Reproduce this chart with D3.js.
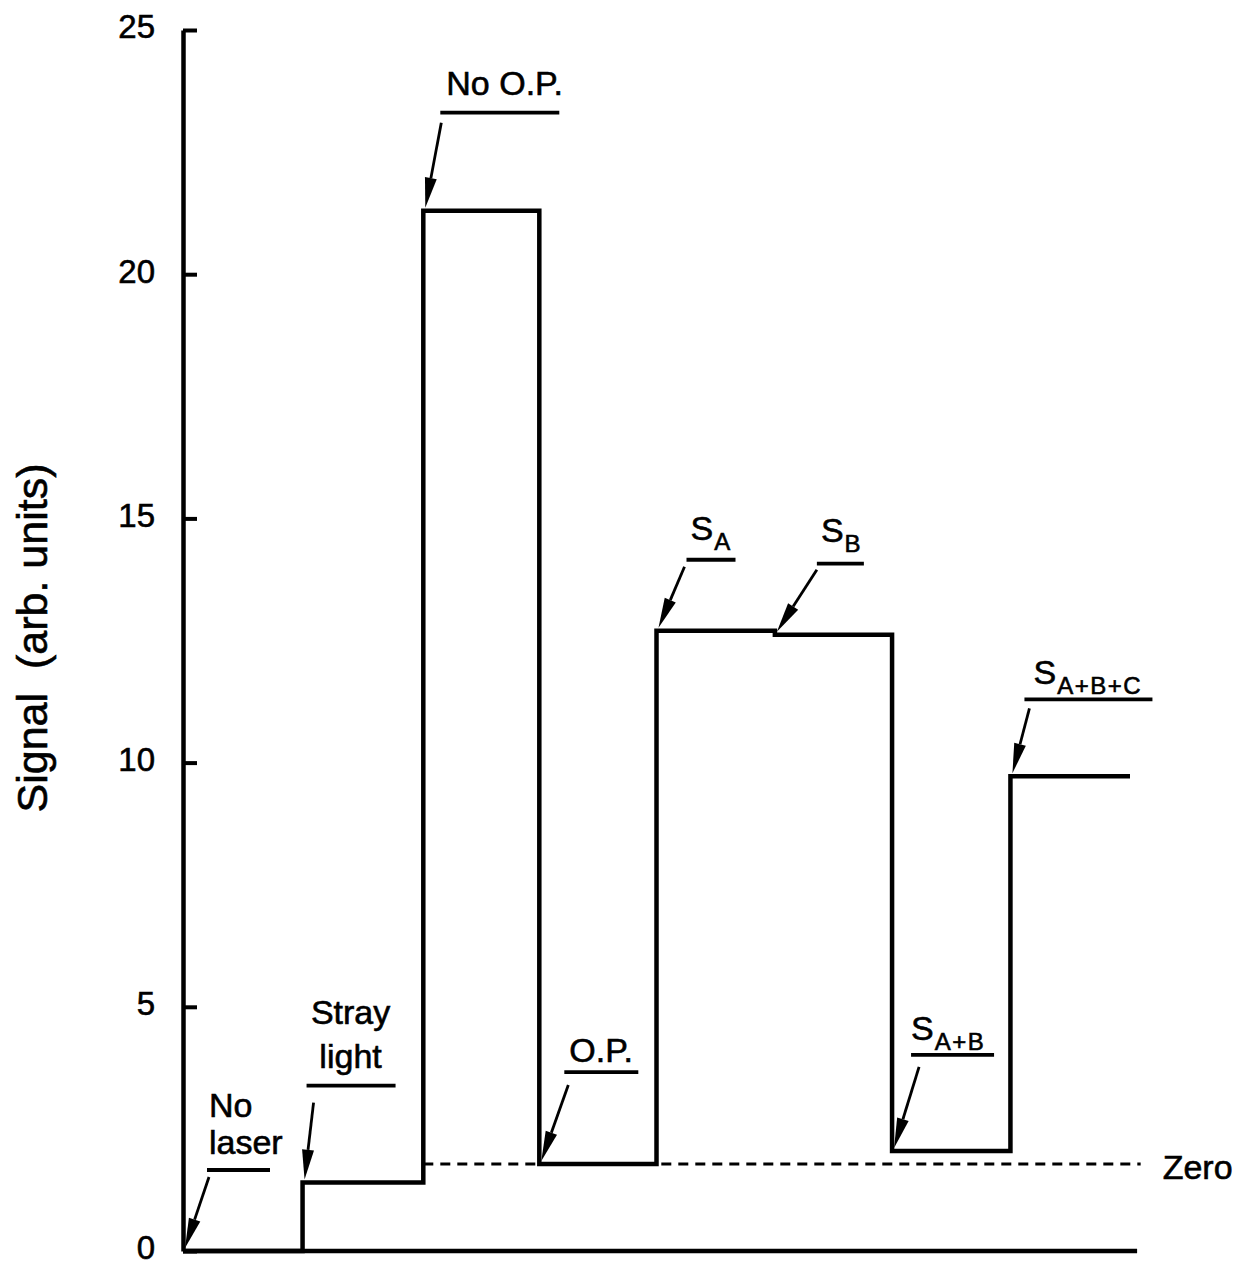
<!DOCTYPE html>
<html>
<head>
<meta charset="utf-8">
<script src="https://cdn.jsdelivr.net/npm/d3@7"></script>
<style>
  html, body { margin: 0; padding: 0; background: #fff; }
  svg { display: block; }
  text { font-family: "Liberation Sans", Arial, Helvetica, sans-serif; fill: #000; stroke: #000; stroke-width: 0.6px; }
</style>
</head>
<body>
<svg id="chart" width="1256" height="1267"></svg>
<script>
// ---- data ----
const stepX = [0, 1.01, 2.03, 3.01, 4.0, 5.0, 5.99, 6.99, 8.0];     // segment boundaries (arb. time)
const stepY = [0, 1.4, 21.3, 1.78, 12.7, 12.62, 2.05, 9.72, 9.72];  // signal level on each segment
const zeroLevel = 1.78;
const zeroRange = [2.03, 8.09];
const baselineRange = [0, 8.06];
const yTicks = [0, 5, 10, 15, 20, 25];
const yLabel = "Signal  (arb. units)";
const annMain = ["No\nlaser", "Stray\nlight", "No O.P.", "O.P.", "S", "S", "S", "S"];
const annSub  = ["", "", "", "", "A", "B", "A+B", "A+B+C"];
const annSeg  = [0, 1, 2, 3, 4, 5, 6, 7];   // which step the arrow points at

// ---- layout (pixels relative to arrow target) ----
const annLayout = [
  { start: [24, -71], ul: [-78, 22, 85], text: { x: 24, ys: [-131, -94], anchor: "start" } },
  { start: [9, -77],  ul: [-94, 2, 91],  text: { x: 46, ys: [-156, -112], anchor: "middle" } },
  { start: [16, -85], ul: [-95, 15, 134], text: { x: 21, ys: [-113], anchor: "start" } },
  { start: [27, -76], ul: [-89, 23, 97], text: { x: 28, ys: [-99], anchor: "start" } },
  { start: [26, -61], ul: [-68, 28, 77], text: { x: 32, ys: [-88], anchor: "start" } },
  { start: [40, -62], ul: [-68, 40, 87], text: { x: 44, ys: [-90], anchor: "start" } },
  { start: [25, -81], ul: [-93, 17, 100], text: { x: 17, ys: [-108], anchor: "start" } },
  { start: [17, -65], ul: [-74, 12, 140], text: { x: 21, ys: [-89], anchor: "start" } }
];

const svg = d3.select("#chart");
const x = d3.scaleLinear().domain([0, 8]).range([183, 1130]);
const y = d3.scaleLinear().domain([0, 25]).range([1251, 30]);

// y axis
const yAxis = d3.axisLeft(y).tickValues(yTicks).tickSizeInner(-14).tickSizeOuter(0).tickPadding(28);
const gy = svg.append("g").attr("transform", `translate(${x(0)},0)`).call(yAxis);
gy.select(".domain").attr("stroke", "#000").attr("stroke-width", 4.5);
gy.selectAll(".tick line").attr("stroke", "#000").attr("stroke-width", 4);
gy.selectAll(".tick text").attr("font-size", 33).attr("dy", "0.24em")
  .attr("font-family", "Liberation Sans, Arial, sans-serif").attr("fill", "#000");

// y label
svg.append("text")
  .attr("transform", `translate(47,638) rotate(-90)`)
  .attr("text-anchor", "middle")
  .attr("font-size", 43)
  .style("white-space", "pre")
  .text(yLabel);

// baseline
svg.append("line")
  .attr("x1", x(baselineRange[0])).attr("x2", x(baselineRange[1]))
  .attr("y1", y(0)).attr("y2", y(0))
  .attr("stroke", "#000").attr("stroke-width", 4.5);

// zero dashed line
svg.append("line")
  .attr("x1", x(zeroRange[0])).attr("x2", x(zeroRange[1]))
  .attr("y1", y(zeroLevel)).attr("y2", y(zeroLevel))
  .attr("stroke", "#000").attr("stroke-width", 3)
  .attr("stroke-dasharray", "10 7");
svg.append("text")
  .attr("x", x(zeroRange[1]) + 22).attr("y", y(zeroLevel) + 15)
  .attr("font-size", 34).text("Zero");

// step signal
const pts = stepX.map((v, i) => [v, stepY[i]]);
const line = d3.line().x(d => x(d[0])).y(d => y(d[1])).curve(d3.curveStepAfter);
svg.append("path")
  .attr("d", line(pts))
  .attr("fill", "none").attr("stroke", "#000").attr("stroke-width", 4.5)
  .attr("stroke-linejoin", "miter");

// annotations
annMain.forEach((txt, i) => {
  const seg = annSeg[i];
  const tx = x(stepX[seg]) + 2, ty = y(stepY[seg]) - 3;
  const L = annLayout[i];
  const sx = tx + L.start[0], sy = ty + L.start[1];
  // arrow shaft + head
  const ang = Math.atan2(ty - sy, tx - sx);
  const hl = 30, hw = 6;
  const bx = tx - hl * Math.cos(ang), by = ty - hl * Math.sin(ang);
  svg.append("line").attr("x1", sx).attr("y1", sy).attr("x2", bx).attr("y2", by)
    .attr("stroke", "#000").attr("stroke-width", 2.8);
  const px = -Math.sin(ang), py = Math.cos(ang);
  svg.append("path")
    .attr("d", `M${tx},${ty}L${bx + px * hw},${by + py * hw}L${bx - px * hw},${by - py * hw}Z`)
    .attr("fill", "#000");
  // underline
  svg.append("line")
    .attr("x1", tx + L.ul[1]).attr("x2", tx + L.ul[2])
    .attr("y1", ty + L.ul[0]).attr("y2", ty + L.ul[0])
    .attr("stroke", "#000").attr("stroke-width", 3.8);
  // text
  const lines = txt.split("\n");
  lines.forEach((ln, k) => {
    const t = svg.append("text")
      .attr("x", tx + L.text.x).attr("y", ty + L.text.ys[k])
      .attr("text-anchor", L.text.anchor)
      .attr("font-size", 34);
    t.append("tspan").text(ln);
    if (annSub[i] && k === lines.length - 1) {
      t.append("tspan").attr("dy", 10).attr("dx", 1).attr("font-size", 24)
        .attr("letter-spacing", 1.5).text(annSub[i]);
    }
  });
});
</script>
</body>
</html>
